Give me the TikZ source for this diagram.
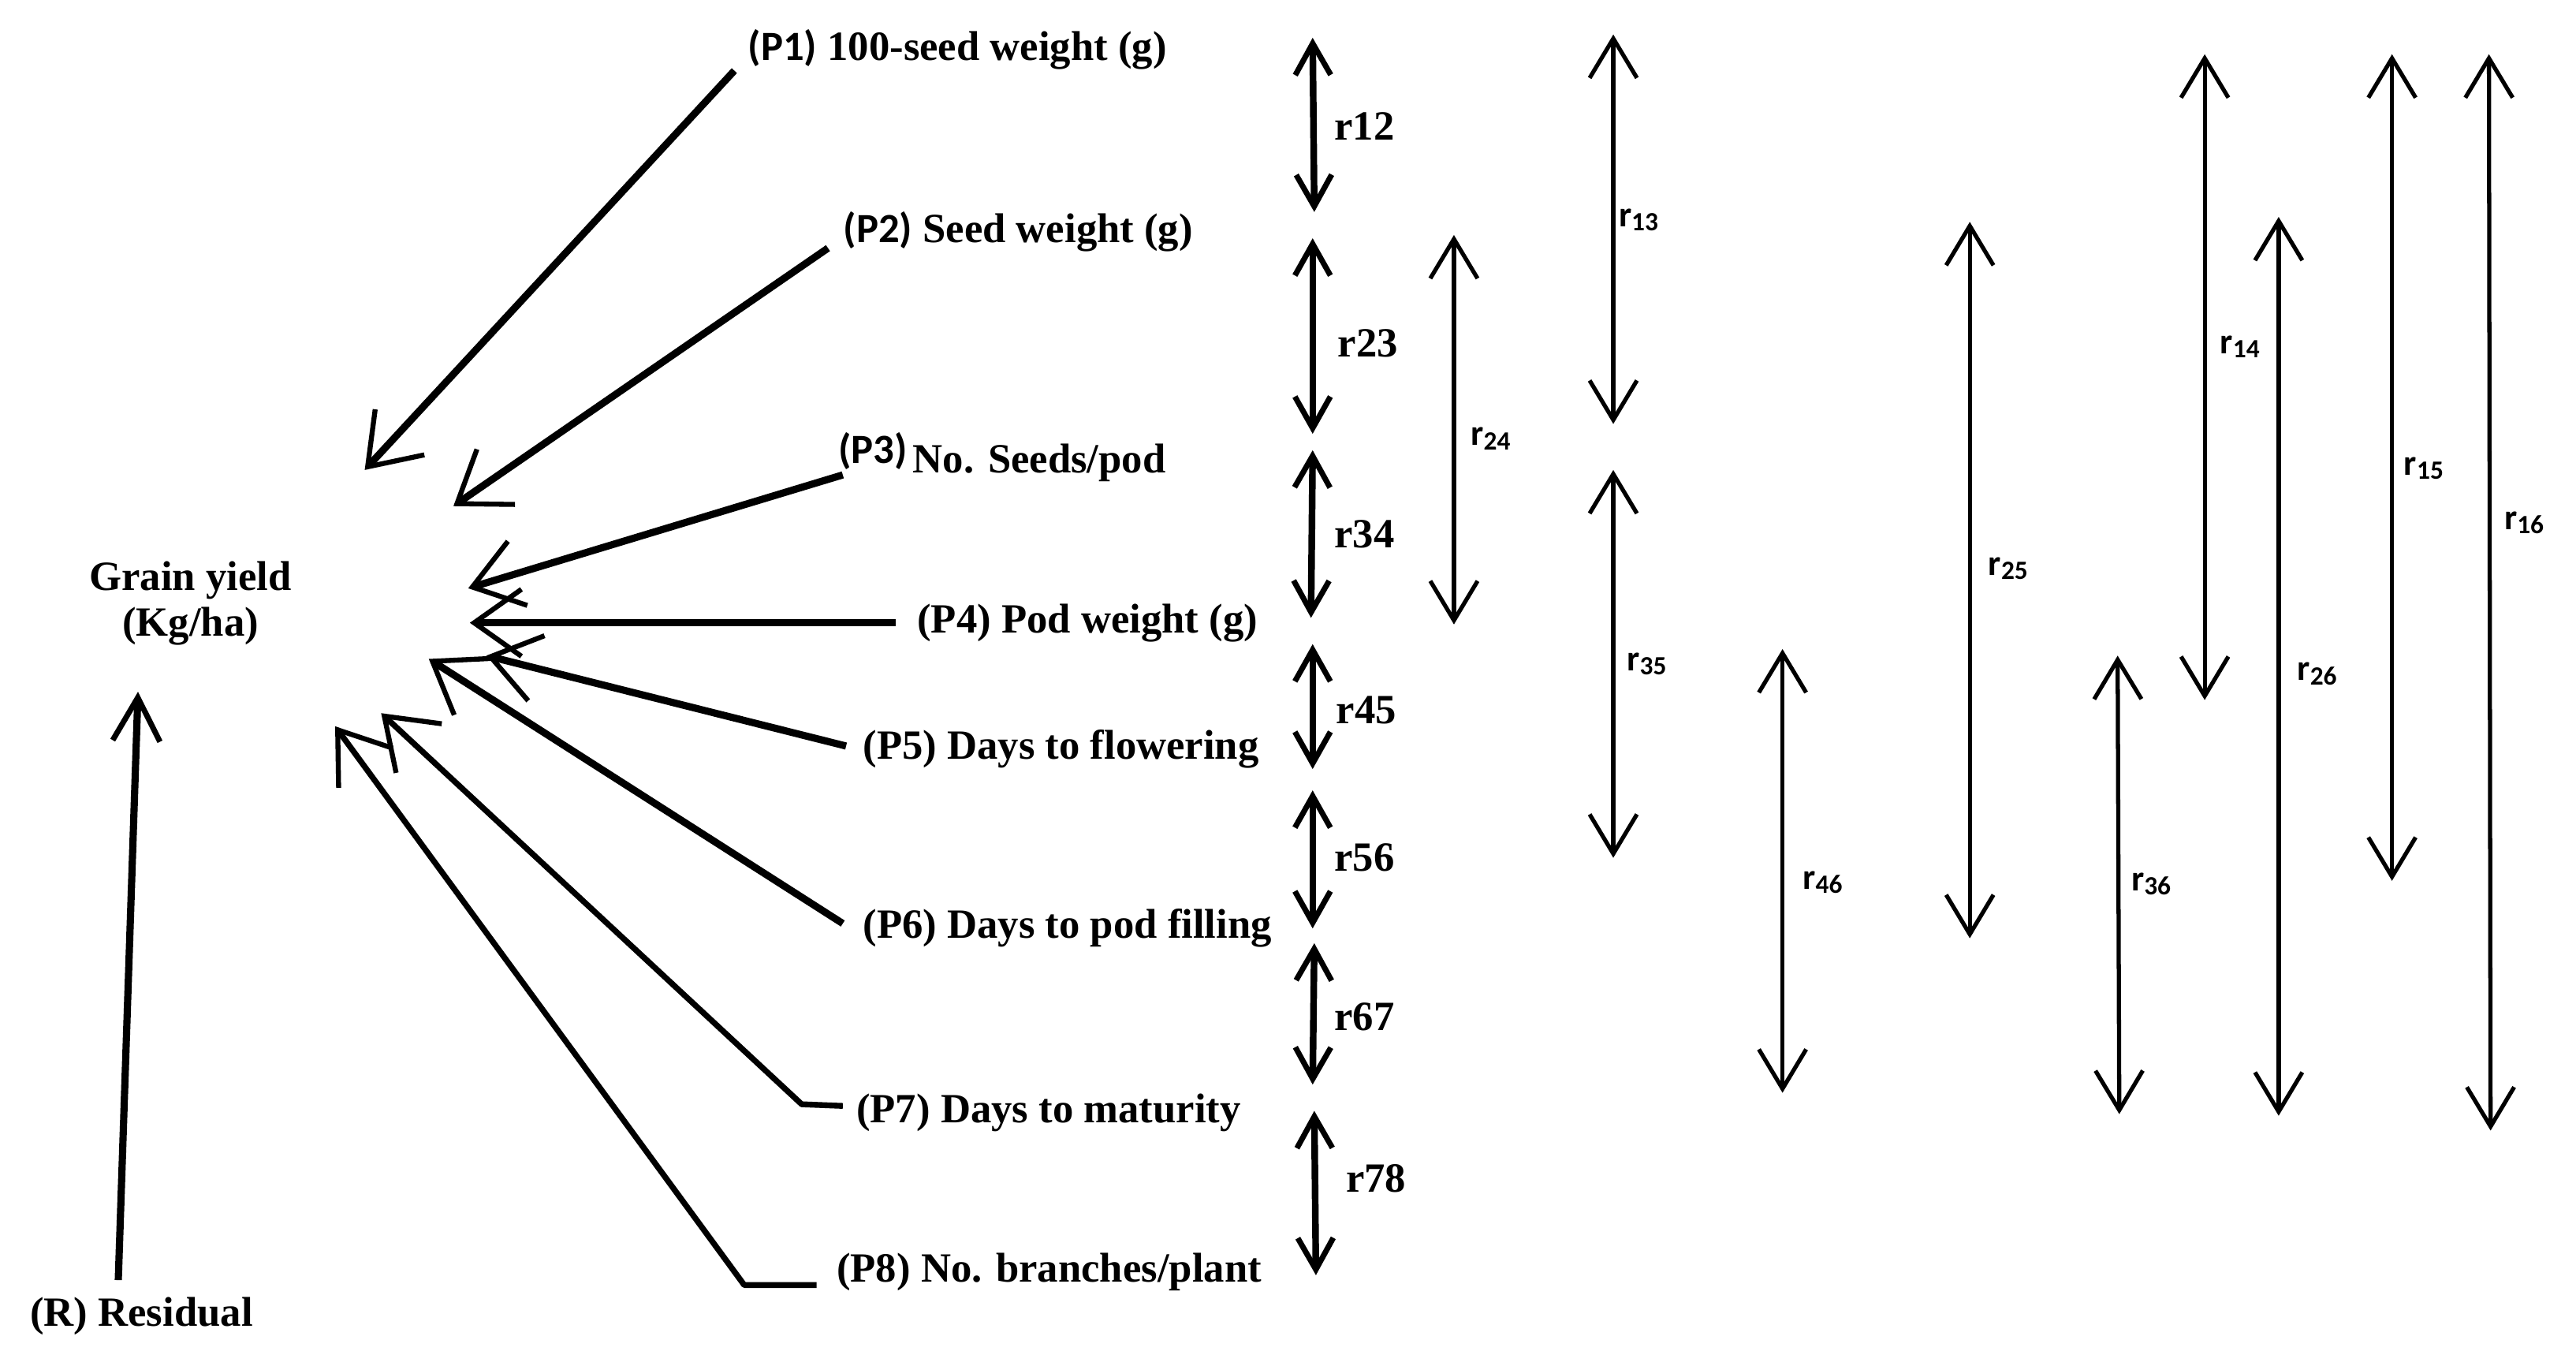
\documentclass[tikz,border=0pt]{standalone}
\usepackage{fontspec}
\setmainfont{Liberation Serif}
\newfontfamily\carlito{Carlito}
\usetikzlibrary{arrows.meta}
\newcommand\rsub[1]{r\raisebox{-1.5pt}{\fontsize{9.5}{10}\selectfont #1}}
\begin{document}
\begin{tikzpicture}[x=0.020836cm,y=-0.020836cm,
  tx/.style={inner sep=0pt,anchor=west,font=\fontsize{15}{16.5}\selectfont\bfseries},
  sub/.style={inner sep=0pt,anchor=west,font=\carlito\bfseries\fontsize{13}{14}\selectfont},
  parr/.style={line width=2.6pt,line join=round,-{Straight Barb[length=0.6cm,width=0.85cm,line width=1.8pt]}},
  parrthin/.style={parr,line width=2.1pt},
  colarr/.style={line width=2.4pt,{Straight Barb[length=0.4cm,width=0.45cm,line width=2pt]}-{Straight Barb[length=0.4cm,width=0.45cm,line width=2pt]}},
  thinarr/.style={line width=1.5pt,{Straight Barb[length=0.5cm,width=0.6cm,line width=1.5pt]}-{Straight Barb[length=0.5cm,width=0.6cm,line width=1.5pt]}}]
\useasboundingbox (0,0) rectangle (1568,831);

% ---------- labels ----------
\node[tx,align=center,anchor=center] (GY) at (116,367) {Grain yield\\(Kg/ha)};
\node[tx] (R)  at (18,801)  {(R) Residual};
\node[tx] (P1) at (455,30)  {{\carlito (P1)} 100-seed weight (g)};
\node[tx] (P2) at (513,141) {{\carlito (P2)} Seed weight (g)};
\node[tx] (P3) at (510,278) {{\carlito\raisebox{3.5pt}{(P3)}}\hspace{2pt}No. Seeds/pod};
\node[tx] (P4) at (558,379) {(P4) Pod weight (g)};
\node[tx] (P5) at (525,456) {(P5) Days to flowering};
\node[tx] (P6) at (525,565) {(P6) Days to pod filling};
\node[tx] (P7) at (521,677) {(P7) Days to maturity};
\node[tx] (P8) at (509,774) {(P8) No. branches/plant};

% ---------- path arrows into grain yield ----------
\coordinate (s1) at (447,43);  \coordinate (t1) at (222,286);
\coordinate (s2) at (504,151); \coordinate (t2) at (276,308);
\coordinate (s3) at (513,289); \coordinate (t3) at (285,358);
\coordinate (s4) at (545,379); \coordinate (t4) at (286,379);
\coordinate (s5) at (515,454); \coordinate (t5) at (296,399);
\coordinate (s6) at (513,562); \coordinate (t6) at (261,401);
\coordinate (s7) at (513,673); \coordinate (k7) at (488,672); \coordinate (t7) at (232,434);
\coordinate (s8) at (497,782); \coordinate (k8) at (453,782); \coordinate (t8) at (204,442);
\coordinate (sR) at (72,779);  \coordinate (tR) at (84,421);

\draw[parr] (s1) -- (t1);
\draw[parr] (s2) -- (t2);
\draw[parr] (s3) -- (t3);
\draw[parr] (s4) -- (t4);
\draw[parr] (s5) -- (t5);
\draw[parr] (s6) -- (t6);
\draw[parrthin] (s7) -- (k7) -- (t7);
\draw[parrthin] (s8) -- (k8) -- (t8);
\draw[line width=2.6pt,-{Straight Barb[length=0.55cm,width=0.6cm,line width=2pt]}] (sR) -- (tR);

% ---------- adjacent correlations ----------
\coordinate (c12a) at (799,23);  \coordinate (c12b) at (800,129);
\coordinate (c23a) at (799,145); \coordinate (c23b) at (799,264);
\coordinate (c34a) at (799,274); \coordinate (c34b) at (798,376);
\coordinate (c45a) at (799,392); \coordinate (c45b) at (799,468);
\coordinate (c56a) at (799,481); \coordinate (c56b) at (799,565);
\coordinate (c67a) at (800,574); \coordinate (c67b) at (799,660);
\coordinate (c78a) at (800,676); \coordinate (c78b) at (801,776);
\draw[colarr] (c12a) -- (c12b);
\draw[colarr] (c23a) -- (c23b);
\draw[colarr] (c34a) -- (c34b);
\draw[colarr] (c45a) -- (c45b);
\draw[colarr] (c56a) -- (c56b);
\draw[colarr] (c67a) -- (c67b);
\draw[colarr] (c78a) -- (c78b);
\node[tx] (r12) at (812,77)  {r12};
\node[tx] (r23) at (814,209) {r23};
\node[tx] (r34) at (812,325) {r34};
\node[tx] (r45) at (813,432) {r45};
\node[tx] (r56) at (812,522) {r56};
\node[tx] (r67) at (812,619) {r67};
\node[tx] (r78) at (819,717) {r78};

% ---------- non-adjacent correlations ----------
\coordinate (d24a) at (885,143);  \coordinate (d24b) at (885,380);
\coordinate (d13a) at (982,21);   \coordinate (d13b) at (982,258);
\coordinate (d35a) at (982,286);  \coordinate (d35b) at (982,522);
\coordinate (d46a) at (1085,395); \coordinate (d46b) at (1085,665);
\coordinate (d25a) at (1199,135); \coordinate (d25b) at (1199,571);
\coordinate (d36a) at (1289,399); \coordinate (d36b) at (1290,678);
\coordinate (d14a) at (1342,33);  \coordinate (d14b) at (1342,426);
\coordinate (d26a) at (1387,132); \coordinate (d26b) at (1387,679);
\coordinate (d15a) at (1456,33);  \coordinate (d15b) at (1456,536);
\coordinate (d16a) at (1515,33);  \coordinate (d16b) at (1516,688);
\draw[thinarr] (d24a) -- (d24b);
\draw[thinarr] (d13a) -- (d13b);
\draw[thinarr] (d35a) -- (d35b);
\draw[thinarr] (d46a) -- (d46b);
\draw[thinarr] (d25a) -- (d25b);
\draw[thinarr] (d36a) -- (d36b);
\draw[thinarr] (d14a) -- (d14b);
\draw[thinarr] (d26a) -- (d26b);
\draw[thinarr] (d15a) -- (d15b);
\draw[thinarr] (d16a) -- (d16b);
\node[sub] (r24) at (895,267) {\rsub{24}};
\node[sub] (r13) at (985,134) {\rsub{13}};
\node[sub] (r35) at (990,404) {\rsub{35}};
\node[sub] (r46) at (1097,537) {\rsub{46}};
\node[sub] (r25) at (1210,346) {\rsub{25}};
\node[sub] (r36) at (1297,538) {\rsub{36}};
\node[sub] (r14) at (1351,211) {\rsub{14}};
\node[sub] (r26) at (1398,410) {\rsub{26}};
\node[sub] (r15) at (1463,285) {\rsub{15}};
\node[sub] (r16) at (1524,318) {\rsub{16}};
\end{tikzpicture}
\end{document}
